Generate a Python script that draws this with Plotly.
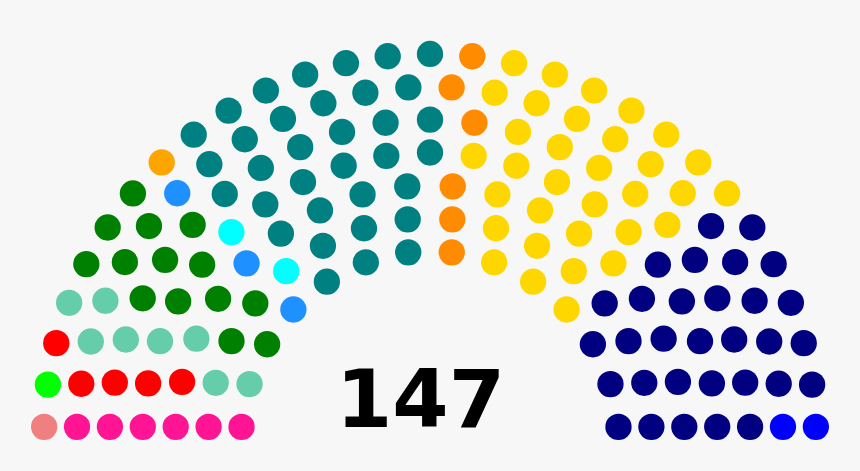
import math
import plotly.graph_objects as go

# Party data (left to right)
party_seats = [1, 6, 1, 5, 8, 14, 3, 1, 2, 34, 6, 33, 31, 2]
party_colors = ["#F08080", "#FF1493", "#00FF00", "#FF0000", "#66CDAA", "#008000",
                "#1E90FF", "#FFA500", "#00FFFF", "#008080", "#FF8C00", "#FFD700",
                "#000080", "#0000FF"]
total_label = "147"

# Parliament layout (standard arch algorithm)
total = sum(party_seats)
totals = [3, 15, 33, 61, 95, 138, 189, 247, 313, 388, 469, 555, 648]
rows = next(i + 1 for i, t in enumerate(totals) if t >= total)
rad = 0.4 / rows
pos = []
for i in range(1, rows):
    J = int(float(total) / totals[rows - 1] * math.pi / (2 * math.asin(2.0 / (3.0 * rows + 4.0 * i - 2.0))))
    R = (3.0 * rows + 4.0 * i - 2.0) / (4.0 * rows)
    for j in range(J):
        a = j * (math.pi - 2.0 * math.sin(rad / R)) / (J - 1.0) + math.sin(rad / R)
        pos.append((a, -R * math.cos(a), R * math.sin(a)))
J = total - len(pos)
R = (7.0 * rows - 2.0) / (4.0 * rows)
for j in range(J):
    a = j * (math.pi - 2.0 * math.sin(rad / R)) / (J - 1.0) + math.sin(rad / R)
    pos.append((a, -R * math.cos(a), R * math.sin(a)))
pos.sort(key=lambda p: (round(p[0], 9), p[1]))

fig = go.Figure()
idx = 0
for n, c in zip(party_seats, party_colors):
    pts = pos[idx:idx + n]
    idx += n
    fig.add_trace(go.Scatter(
        x=[p[1] for p in pts], y=[p[2] for p in pts], mode="markers",
        marker=dict(size=26.3, color=c, line=dict(width=0)),
        hoverinfo="skip", showlegend=False))

scale = 230.0
fig.add_annotation(x=(420 - 430) / scale, y=(440 - 399) / scale, xref="x", yref="y",
                   text="<b>" + total_label + "</b>",
                   showarrow=False, font=dict(family="DejaVu Sans", size=81, color="black"),
                   xanchor="center", yanchor="middle")

fig.update_layout(
    width=860, height=471, margin=dict(l=0, r=0, t=0, b=0),
    paper_bgcolor="#F7F7F7", plot_bgcolor="#F7F7F7",
    xaxis=dict(range=[-430 / scale, 430 / scale], visible=False, fixedrange=True),
    yaxis=dict(range=[-31 / scale, 440 / scale], visible=False, fixedrange=True),
)
fig.write_html("out.html", config={"displayModeBar": False},
               post_script="document.body.style.margin='0';document.body.style.background='#F7F7F7';")
